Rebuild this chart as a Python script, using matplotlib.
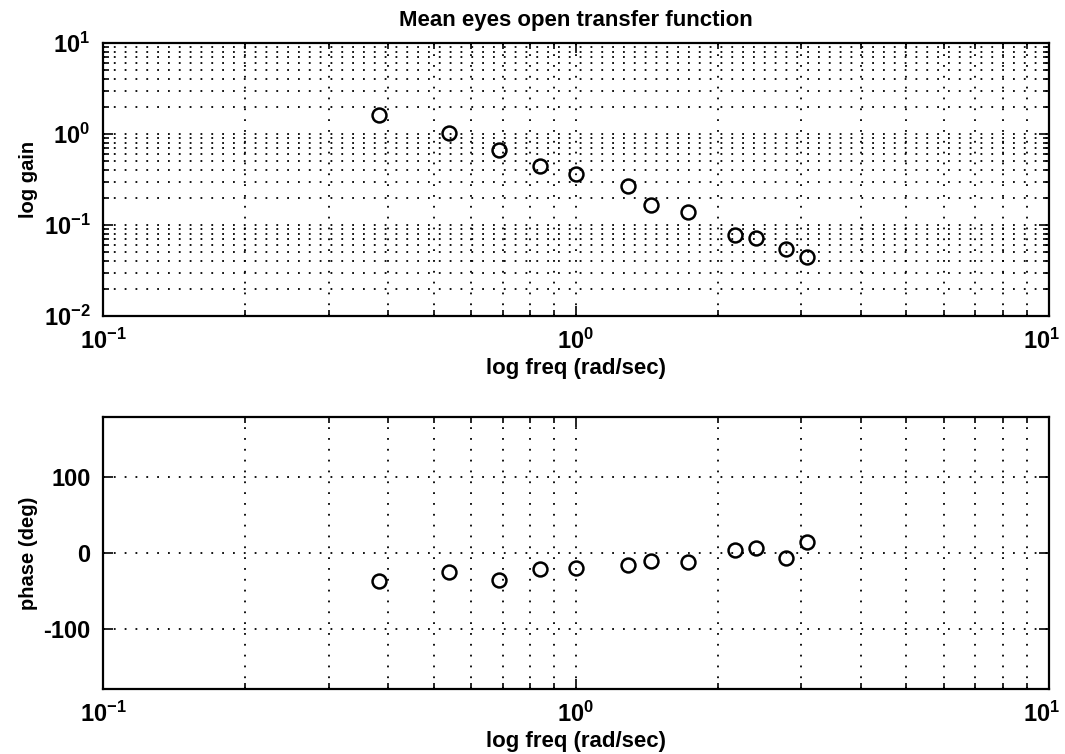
import numpy as np
import matplotlib
matplotlib.use("Agg")
import matplotlib.pyplot as plt
import matplotlib.transforms as mtransforms
from matplotlib.ticker import LogLocator, NullFormatter, FixedLocator

# values
freq = [0.383, 0.538, 0.689, 0.840, 1.0, 1.29, 1.445, 1.73, 2.17, 2.40, 2.78, 3.08]
gain = [1.62, 1.03, 0.667, 0.45, 0.363, 0.268, 0.166, 0.139, 0.0776, 0.072, 0.0545, 0.0445]
phase = [-37, -25, -35, -21, -20, -16, -11, -12, 4, 7, -7, 15]
decades = [0.1, 1, 10]

plt.rcParams['font.family'] = ['Liberation Sans', 'DejaVu Sans']
plt.rcParams['mathtext.fontset'] = 'custom'
plt.rcParams['mathtext.rm'] = 'Liberation Sans:bold'
plt.rcParams['mathtext.it'] = 'Liberation Sans:bold'
plt.rcParams['mathtext.bf'] = 'Liberation Sans:bold'
plt.rcParams['axes.unicode_minus'] = False

TICK_FS = 17
LAB_FS = 16
dots = (0, (1, 5))

fig = plt.figure(figsize=(10.65, 7.54), dpi=100)
ax1 = fig.add_axes([0.0967, 0.581, 0.888, 0.362])
ax2 = fig.add_axes([0.0967, 0.086, 0.888, 0.361])

for ax in (ax1, ax2):
    ax.set_xscale('log')
    ax.set_xlim(0.1, 10)
    ax.xaxis.set_major_locator(FixedLocator(decades))
    ax.xaxis.set_minor_locator(LogLocator(base=10, subs=np.arange(2, 10)))
    ax.xaxis.set_minor_formatter(NullFormatter())
    ax.tick_params(which='both', direction='in', top=True, right=True, width=1.2)
    ax.tick_params(which='major', length=7, labelsize=TICK_FS, pad=9)
    ax.tick_params(which='minor', length=4)
    ax.grid(True, which='both', axis='x', color='black', linestyle=dots, linewidth=1.3)
    for s in ax.spines.values():
        s.set_linewidth(1.6)
    ax.set_xlabel('log freq (rad/sec)', fontsize=LAB_FS, fontweight='bold', labelpad=3)

# gain plot
ax1.set_yscale('log')
ax1.set_ylim(1e-2, 1e1)
ax1.yaxis.set_major_locator(FixedLocator([0.01, 0.1, 1, 10]))
ax1.yaxis.set_minor_locator(LogLocator(base=10, subs=np.arange(2, 10)))
ax1.yaxis.set_minor_formatter(NullFormatter())
ax1.grid(True, which='both', axis='y', color='black', linestyle=dots, linewidth=1.3)
ax1.plot(freq, gain, linestyle='none', marker='o', markersize=10,
         markerfacecolor='none', markeredgecolor='black', markeredgewidth=1.8)
ax1.set_ylabel('log gain', fontsize=14.5, fontweight='bold', labelpad=4)
ax1.set_title('Mean eyes open transfer function', fontsize=LAB_FS, fontweight='bold', pad=12)

# phase plot
ax2.set_ylim(-180, 180)
ax2.yaxis.set_major_locator(FixedLocator([-100, 0, 100]))
ax2.grid(True, which='major', axis='y', color='black', linestyle=dots, linewidth=1.3)
ax2.plot(freq, phase, linestyle='none', marker='o', markersize=10,
         markerfacecolor='none', markeredgecolor='black', markeredgewidth=1.8)
ax2.set_ylabel('phase (deg)', fontsize=14.5, fontweight='bold', labelpad=4)

fig.canvas.draw()
# bold tick labels, and nudge the rightmost x label so it stays inside the figure
shift = mtransforms.ScaledTranslation(-7 / 100, 0, fig.dpi_scale_trans)
for ax in (ax1, ax2):
    for t in ax.xaxis.get_major_ticks() + ax.yaxis.get_major_ticks():
        t.label1.set_fontweight('bold')
    last = ax.xaxis.get_major_ticks()[-1].label1
    last.set_transform(last.get_transform() + shift)

fig.savefig('out.png', dpi=100)
